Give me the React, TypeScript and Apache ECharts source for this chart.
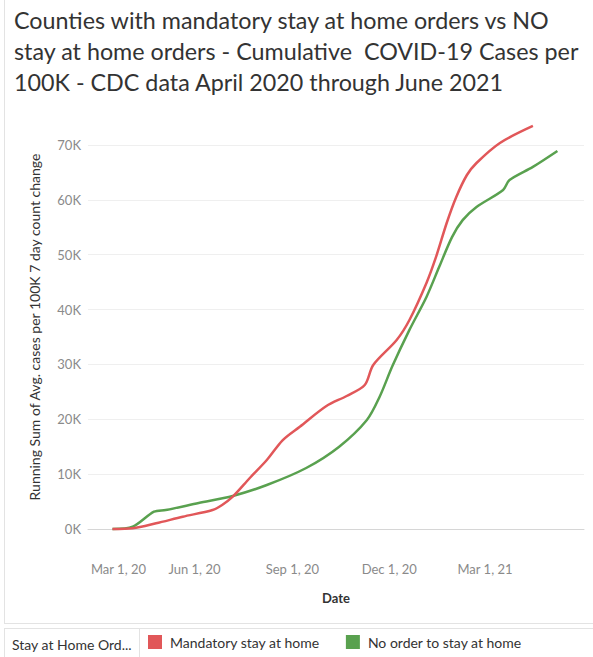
import React, { useEffect, useRef } from "react";
import * as echarts from "echarts";

// Cumulative cases per 100K (running sum)
const mandatoryDates = [
  "2020-03-16", "2020-04-04", "2020-04-26", "2020-05-21", "2020-06-18", "2020-06-27",
  "2020-07-07", "2020-07-23", "2020-08-08", "2020-08-23", "2020-09-08", "2020-10-03",
  "2020-10-22", "2020-11-08", "2020-11-16", "2020-12-08", "2020-12-20", "2021-01-05",
  "2021-01-14", "2021-01-24", "2021-02-02", "2021-02-12", "2021-02-21", "2021-03-15",
  "2021-04-15",
];
const mandatoryValues = [
  0, 130, 1040, 2240, 3460, 4380,
  5890, 9300, 12580, 16220, 18650, 22420,
  24250, 26250, 29900, 34450, 38100, 44850,
  49590, 55780, 60520, 64530, 66720, 70370,
  73470,
];

const noOrderDates = [
  "2020-03-16", "2020-04-04", "2020-04-24", "2020-05-05", "2020-06-05", "2020-07-07",
  "2020-08-08", "2020-09-14", "2020-10-15", "2020-11-10", "2020-11-22", "2020-12-04",
  "2020-12-20", "2021-01-05", "2021-01-17", "2021-01-29", "2021-02-08", "2021-02-21",
  "2021-03-18", "2021-03-24", "2021-04-15", "2021-05-08",
];
const noOrderValues = [
  0, 420, 3150, 3460, 4740, 6020,
  8020, 11120, 15000, 19870, 24100, 29700,
  36300, 42300, 47800, 53200, 56300, 58700,
  61800, 63600, 66000, 68900,
];

const xTickDates = ["2020-03-01", "2020-06-01", "2020-09-01", "2020-12-01", "2021-03-01"];
const xTickLabels = ["Mar 1, 20", "Jun 1, 20", "Sep 1, 20", "Dec 1, 20", "Mar 1, 21"];
const xRange = ["2020-02-22", "2021-06-02"];

const yTickValues = [0, 10000, 20000, 30000, 40000, 50000, 60000, 70000];
const yTickLabels = ["0K", "10K", "20K", "30K", "40K", "50K", "60K", "70K"];

const seriesNames = ["Mandatory stay at home", "No order to stay at home"];
const seriesColors = ["#E15759", "#59A14F"];

const titleLines = [
  "Counties with mandatory stay at home orders vs NO",
  "stay at home orders - Cumulative  COVID-19 Cases per",
  "100K - CDC data April 2020 through June 2021",
];
const yAxisTitle = "Running Sum of Avg. cases per 100K 7 day count change";
const xAxisTitle = "Date";
const legendTitle = "Stay at Home Ord...";

const ts = (s: string) => {
  const [y, m, d] = s.split("-").map(Number);
  return Date.UTC(y, m - 1, d);
};

const FONT = "Lato, 'Noto Sans', sans-serif";

export default function App() {
  const ref = useRef<HTMLDivElement>(null);

  useEffect(() => {
    if (!ref.current) return;
    const chart = echarts.init(ref.current, undefined, { renderer: "svg" });
    const tickTs = xTickDates.map(ts);
    const labelMap: Record<number, string> = {};
    tickTs.forEach((t, i) => (labelMap[t] = xTickLabels[i]));

    chart.setOption({
      animation: false,
      backgroundColor: "#ffffff",
      title: {
        text: titleLines.join("\n"),
        left: 9,
        top: -1,
        textStyle: {
          fontFamily: FONT,
          fontSize: 23.3,
          fontWeight: "normal",
          color: "#333333",
          lineHeight: 31,
        },
      },
      grid: { left: 88, right: 9, top: 145, bottom: 128, containLabel: false },
      xAxis: {
        type: "value",
        min: ts(xRange[0]),
        max: ts(xRange[1]),
        name: xAxisTitle,
        nameLocation: "middle",
        nameGap: 62,
        nameTextStyle: { fontFamily: FONT, fontSize: 13, fontWeight: "bold", color: "#333333" },
        axisLine: { show: true, lineStyle: { color: "#d6d6d6", width: 1 } },
        axisTick: { show: false, customValues: tickTs },
        splitLine: { show: false },
        axisLabel: {
          customValues: tickTs,
          margin: 33,
          fontFamily: FONT,
          fontSize: 13,
          color: "#8a8a8a",
          formatter: (v: number) => {
            const s = labelMap[v] ?? "";
            return v === tickTs[0] ? "{first|" + s + "}" : s;
          },
          rich: {
            first: { padding: [0, 0, 0, 44], fontFamily: FONT, fontSize: 13, color: "#8a8a8a" },
          },
        },
      },
      yAxis: {
        type: "value",
        min: yTickValues[0],
        max: yTickValues[yTickValues.length - 1],
        interval: yTickValues[1] - yTickValues[0],
        axisLine: { show: false },
        axisTick: { show: false },
        splitLine: { show: true, lineStyle: { color: "#efefef", width: 1 } },
        axisLabel: {
          margin: 7,
          fontFamily: FONT,
          fontSize: 13,
          color: "#8a8a8a",
          formatter: (v: number) => yTickLabels[yTickValues.indexOf(v)] ?? "",
        },
      },
      legend: {
        data: seriesNames,
        left: 148,
        top: 635,
        padding: 0,
        icon: "rect",
        itemWidth: 14,
        itemHeight: 14,
        itemGap: 26,
        textStyle: { fontFamily: FONT, fontSize: 14, color: "#333333", padding: [0, 0, 0, 3] },
      },
      graphic: [
        {
          type: "text",
          x: 34,
          y: 327,
          rotation: Math.PI / 2,
          style: {
            text: yAxisTitle,
            fontFamily: FONT,
            fontSize: 14,
            fill: "#333333",
            align: "center",
            verticalAlign: "middle",
          },
        },
        { type: "line", shape: { x1: 4.5, y1: 0, x2: 4.5, y2: 623 }, style: { stroke: "#e3e3e3", lineWidth: 1 } },
        { type: "line", shape: { x1: 4, y1: 623.5, x2: 593, y2: 623.5 }, style: { stroke: "#e3e3e3", lineWidth: 1 } },
        { type: "line", shape: { x1: 4, y1: 628.5, x2: 593, y2: 628.5 }, style: { stroke: "#e3e3e3", lineWidth: 1 } },
        { type: "line", shape: { x1: 4.5, y1: 628, x2: 4.5, y2: 657 }, style: { stroke: "#e3e3e3", lineWidth: 1 } },
        { type: "line", shape: { x1: 139.5, y1: 628, x2: 139.5, y2: 657 }, style: { stroke: "#e3e3e3", lineWidth: 1 } },
        {
          type: "text",
          x: 12,
          y: 644,
          style: {
            text: legendTitle,
            fontFamily: FONT,
            fontSize: 14,
            fill: "#333333",
            align: "left",
            verticalAlign: "middle",
          },
        },
      ],
      series: [
        {
          name: seriesNames[1],
          type: "line",
          data: noOrderDates.map((d, i) => [ts(d), noOrderValues[i]]),
          showSymbol: false,
          smooth: 0.3,
          clip: false,
          lineStyle: { color: seriesColors[1], width: 2.5 },
          itemStyle: { color: seriesColors[1] },
        },
        {
          name: seriesNames[0],
          type: "line",
          data: mandatoryDates.map((d, i) => [ts(d), mandatoryValues[i]]),
          showSymbol: false,
          smooth: 0.3,
          clip: false,
          lineStyle: { color: seriesColors[0], width: 2.5 },
          itemStyle: { color: seriesColors[0] },
        },
      ],
    });

    return () => chart.dispose();
  }, []);

  return (
    <div
      ref={ref}
      style={{ position: "fixed", left: 0, top: 0, width: 593, height: 657 }}
    />
  );
}
